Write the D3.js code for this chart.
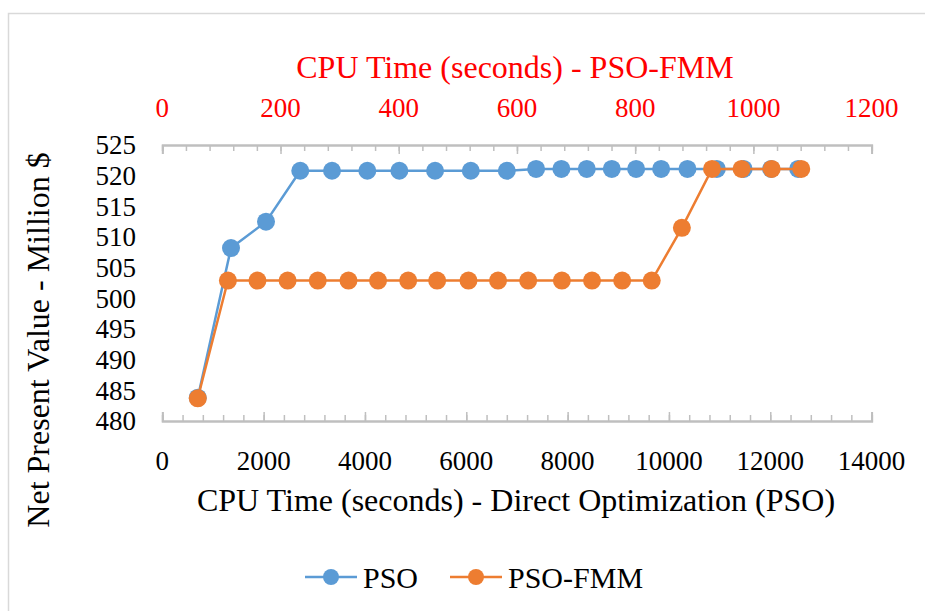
<!DOCTYPE html>
<html>
<head>
<meta charset="utf-8">
<script src="https://cdn.jsdelivr.net/npm/d3@7"></script>
<style>
  body { margin: 0; background: #fff; }
</style>
</head>
<body>
<script>
// CPU time (s) and NPV (million $)
const psoTime = [700, 1356, 2047, 2723, 3350, 4047, 4679, 5384, 6089, 6800, 7378, 7877,
                 8378, 8872, 9352, 9846, 10365, 10945, 11474, 12017, 12550];
const psoNpv = [483.8, 508.2, 512.5, 520.8, 520.8, 520.8, 520.8, 520.8, 520.8, 520.8, 521.1, 521.1,
                521.1, 521.1, 521.1, 521.1, 521.1, 521.1, 521.1, 521.1, 521.1];
const fmmTime = [60, 111, 161, 212, 263, 315, 365, 416, 465, 518, 568, 619, 676, 727, 778,
                 828, 879, 930, 980, 1031, 1081];
const fmmNpv = [483.7, 502.9, 502.9, 502.9, 502.9, 502.9, 502.9, 502.9, 502.9, 502.9, 502.9, 502.9,
                502.9, 502.9, 502.9, 502.9, 511.5, 521.1, 521.1, 521.1, 521.1];

const bottomTicks = [0, 2000, 4000, 6000, 8000, 10000, 12000, 14000];
const topTicks = [0, 200, 400, 600, 800, 1000, 1200];
const yTicks = [480, 485, 490, 495, 500, 505, 510, 515, 520, 525];

const width = 925, height = 611;
const plotL = 162.3, plotR = 871.6, plotT = 145, plotB = 421;
const blue = "#5b9bd5", orange = "#ed7d31", axisCol = "#bfbfbf";
const serif = "'Liberation Serif', 'Times New Roman', 'DejaVu Serif', serif";

const x = d3.scaleLinear().domain([0, 14000]).range([plotL, plotR]);
const x2 = d3.scaleLinear().domain([0, 1200]).range([plotL, plotR]);
const y = d3.scaleLinear().domain([480, 525]).range([plotB, plotT]);

const svg = d3.select("body").append("svg")
    .attr("width", width)
    .attr("height", height)
    .style("font-family", serif);

svg.append("rect")
    .attr("x", 8.5).attr("y", 13.5)
    .attr("width", width + 10).attr("height", height + 10)
    .attr("fill", "none")
    .attr("stroke", "#d9d9d9")
    .attr("stroke-width", 1.5);

// axes: line + minor/major ticks, labels placed separately
function ticksAxis(gen, ty, minor, major) {
  const g1 = svg.append("g").attr("transform", `translate(0,${ty})`)
      .call(gen.tickValues(minor).tickSize(6).tickFormat(""));
  const g2 = svg.append("g").attr("transform", `translate(0,${ty})`)
      .call(gen.tickValues(major).tickSize(9).tickFormat(""));
  [g1, g2].forEach(g => {
    g.selectAll("line").attr("stroke", axisCol).attr("stroke-width", 1.5);
    g.select(".domain").attr("stroke", axisCol).attr("stroke-width", 2);
  });
}

ticksAxis(d3.axisTop(x), plotB, d3.range(0, 14001, 400), bottomTicks);
ticksAxis(d3.axisBottom(x2), plotT, d3.range(0, 1201, 40), topTicks);

svg.append("g")
  .selectAll("text")
  .data(bottomTicks)
  .join("text")
    .attr("x", d => x(d))
    .attr("y", 461)
    .attr("dy", "0.35em")
    .attr("text-anchor", "middle")
    .style("font-family", serif)
    .style("font-size", "27px")
    .text(d => d);

svg.append("g")
  .selectAll("text")
  .data(topTicks)
  .join("text")
    .attr("x", d => x2(d))
    .attr("y", 108)
    .attr("dy", "0.35em")
    .attr("text-anchor", "middle")
    .style("font-family", serif)
    .style("font-size", "27px")
    .attr("fill", "#ff0000")
    .text(d => d);

svg.append("g")
  .selectAll("text")
  .data(yTicks)
  .join("text")
    .attr("x", 136)
    .attr("y", d => y(d))
    .attr("dy", "0.35em")
    .attr("text-anchor", "end")
    .style("font-family", serif)
    .style("font-size", "27px")
    .text(d => d);

svg.append("text")
    .attr("x", (plotL + plotR) / 2 - 2)
    .attr("y", 67)
    .attr("dy", "0.35em")
    .attr("text-anchor", "middle")
    .style("font-family", serif)
    .style("font-size", "32px")
    .attr("fill", "#ff0000")
    .text("CPU Time (seconds) - PSO-FMM");

svg.append("text")
    .attr("x", 516)
    .attr("y", 500)
    .attr("dy", "0.35em")
    .attr("text-anchor", "middle")
    .style("font-family", serif)
    .style("font-size", "32px")
    .text("CPU Time (seconds) - Direct Optimization (PSO)");

svg.append("text")
    .attr("transform", "translate(38,340) rotate(-90)")
    .attr("dy", "0.35em")
    .attr("text-anchor", "middle")
    .style("font-family", serif)
    .style("font-size", "32px")
    .text("Net Present Value - Million $");

// series
const series = [
  {name: "PSO", color: blue, xs: x, pts: d3.zip(psoTime, psoNpv)},
  {name: "PSO-FMM", color: orange, xs: x2, pts: d3.zip(fmmTime, fmmNpv)}
];

series.forEach(s => {
  const line = d3.line().x(d => s.xs(d[0])).y(d => y(d[1]));
  svg.append("path")
      .attr("d", line(s.pts))
      .attr("fill", "none")
      .attr("stroke", s.color)
      .attr("stroke-width", 2.5);
  svg.append("g")
    .selectAll("circle")
    .data(s.pts)
    .join("circle")
      .attr("cx", d => s.xs(d[0]))
      .attr("cy", d => y(d[1]))
      .attr("r", 9)
      .attr("fill", s.color);
});

// legend
const legend = svg.append("g");
const legX = [305, 450];
series.forEach((s, i) => {
  const g = legend.append("g").attr("transform", `translate(${legX[i]},577)`);
  g.append("line").attr("x1", 0).attr("x2", 52)
      .attr("stroke", s.color).attr("stroke-width", 2.5);
  g.append("circle").attr("cx", 26).attr("r", 8).attr("fill", s.color);
  g.append("text").attr("x", 58).attr("dy", "0.35em")
      .style("font-family", serif)
      .style("font-size", "30px").text(s.name);
});
</script>
</body>
</html>
